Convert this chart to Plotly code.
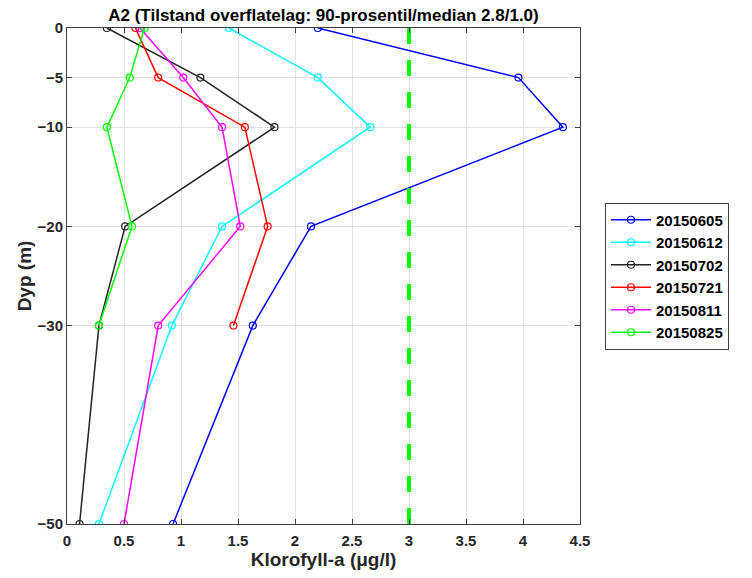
import plotly.graph_objects as go

depths = [0, -5, -10, -20, -30, -50]
series_names = ["20150605", "20150612", "20150702", "20150721", "20150811", "20150825"]
v_20150605 = [2.20, 3.96, 4.35, 2.14, 1.63, 0.93]
v_20150612 = [1.42, 2.20, 2.66, 1.36, 0.92, 0.28]
v_20150702 = [0.35, 1.17, 1.82, 0.51, 0.28, 0.11]
v_20150721 = [0.60, 0.80, 1.56, 1.76, 1.46]
v_20150811 = [0.64, 1.02, 1.36, 1.52, 0.80, 0.50]
v_20150825 = [0.68, 0.55, 0.35, 0.57, 0.28]
colors = ["#0000ff", "#00ffff", "#222222", "#ff0000", "#ff00ff", "#00ff00"]
threshold = 3.0
xticks = [0, 0.5, 1, 1.5, 2, 2.5, 3, 3.5, 4, 4.5]
xticklabels = ["0", "0.5", "1", "1.5", "2", "2.5", "3", "3.5", "4", "4.5"]
yticks = [-50, -30, -20, -10, -5, 0]

values = [v_20150605, v_20150612, v_20150702, v_20150721, v_20150811, v_20150825]

fig = go.Figure()
for name, vals, col in zip(series_names, values, colors):
    fig.add_trace(go.Scatter(
        x=vals, y=depths[:len(vals)], name=name, mode="lines+markers",
        line=dict(color=col, width=1.5),
        marker=dict(symbol="circle-open", size=7, color=col, line=dict(width=1.2, color=col)),
    ))

fig.add_trace(go.Scatter(
    x=[threshold, threshold], y=[depths[0], depths[-1]], mode="lines",
    line=dict(color="#00ff00", width=4, dash="16px,16px"), showlegend=False,
    hoverinfo="skip",
))

font_fam = "Liberation Sans, Arial, sans-serif"
axis_common = dict(
    showline=True, linecolor="#404040", linewidth=1, mirror="ticks",
    ticks="inside", ticklen=5, tickcolor="#404040", automargin=False,
    showgrid=True, gridcolor="#e3e3e3", gridwidth=1, zeroline=False,
    tickfont=dict(family=font_fam, size=15, color="#262626", weight="bold"),
)

fig.update_layout(
    width=752, height=578,
    margin=dict(l=67, r=172, t=28, b=54),
    paper_bgcolor="white", plot_bgcolor="white",
    font=dict(family=font_fam, color="#262626"),
    title=dict(text="<b>A2 (Tilstand overflatelag: 90-prosentil/median 2.8/1.0)</b>",
               x=0.5, xref="paper", xanchor="center",
               y=1 - 15 / 578, yref="container", yanchor="middle",
               font=dict(family=font_fam, size=17, color="#000000")),
    xaxis=dict(range=[0, 4.5], tickvals=xticks, ticktext=xticklabels,
               ticklabelstandoff=3,
               title=dict(text="<b>Klorofyll-a (μg/l)</b>", standoff=0,
                          font=dict(family=font_fam, size=19, color="#262626")),
               **axis_common),
    yaxis=dict(range=[-50, 0], tickvals=yticks,
               title=dict(text="<b>Dyp (m)</b>", standoff=0,
                          font=dict(family=font_fam, size=19, color="#262626")),
               **axis_common),
    legend=dict(x=(605 - 67) / 513, xanchor="left", y=0.5, yanchor="middle",
                bordercolor="#404040", borderwidth=1, bgcolor="white",
                font=dict(family=font_fam, size=15, color="#000000", weight="bold"),
                tracegroupgap=0, itemwidth=40),
    showlegend=True,
)

fig.write_html("out.html", config={"displayModeBar": False},
               post_script="document.body.style.margin='0';document.body.style.overflow='hidden';")
